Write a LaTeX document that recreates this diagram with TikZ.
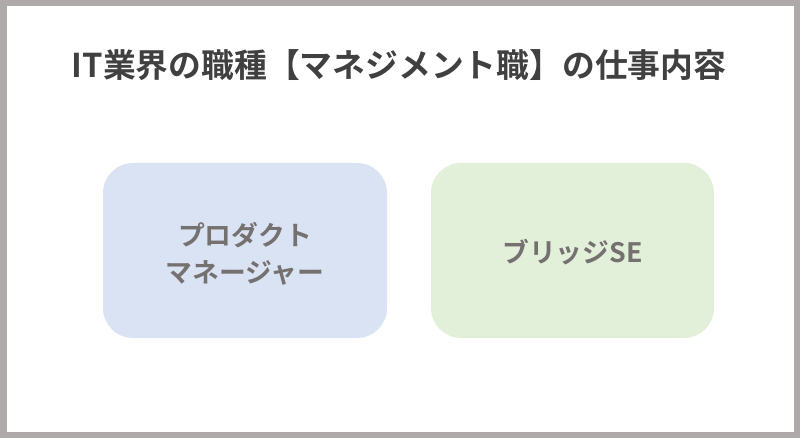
\documentclass[tikz,border=0pt]{standalone}
\usepackage{fontspec}
\setmainfont{Noto Sans CJK JP}[BoldFont={* Bold}]
\definecolor{framegray}{HTML}{AEAAAA}
\definecolor{titlegray}{HTML}{404040}
\definecolor{textgray}{HTML}{767171}
\definecolor{boxblue}{HTML}{DAE3F3}
\definecolor{boxgreen}{HTML}{E2F0D9}
\tikzset{
  card/.style={rectangle, rounded corners=30pt, minimum height=175pt, inner sep=0pt},
  cardtext/.style={inner sep=0pt, font=\bfseries\fontsize{26.8}{37}\selectfont, text=textgray, align=center},
}
\begin{document}
\begin{tikzpicture}[x=1pt,y=1pt]
\useasboundingbox (0,0) rectangle (800,-438);
\fill[white] (0,0) rectangle (800,-438);
\draw[framegray, line width=6.5pt] (3.25,-3.25) rectangle (796.75,-434.75);
\node[font=\bfseries\fontsize{32.8}{38}\selectfont, text=titlegray] (title) at (399,-65) {IT業界の職種【マネジメント職】の仕事内容};
\node[card, fill=boxblue, minimum width=284pt] (pm) at (245,-250.5) {};
\node[card, fill=boxgreen, minimum width=283pt] (bse) at (572.5,-250.5) {};
\node[cardtext] (pmtext) at ([yshift=-3pt]pm.center) {プロダクト\\マネージャー};
\node[cardtext] (bsetext) at ([yshift=-2pt]bse.center) {ブリッジSE};
\end{tikzpicture}
\end{document}
